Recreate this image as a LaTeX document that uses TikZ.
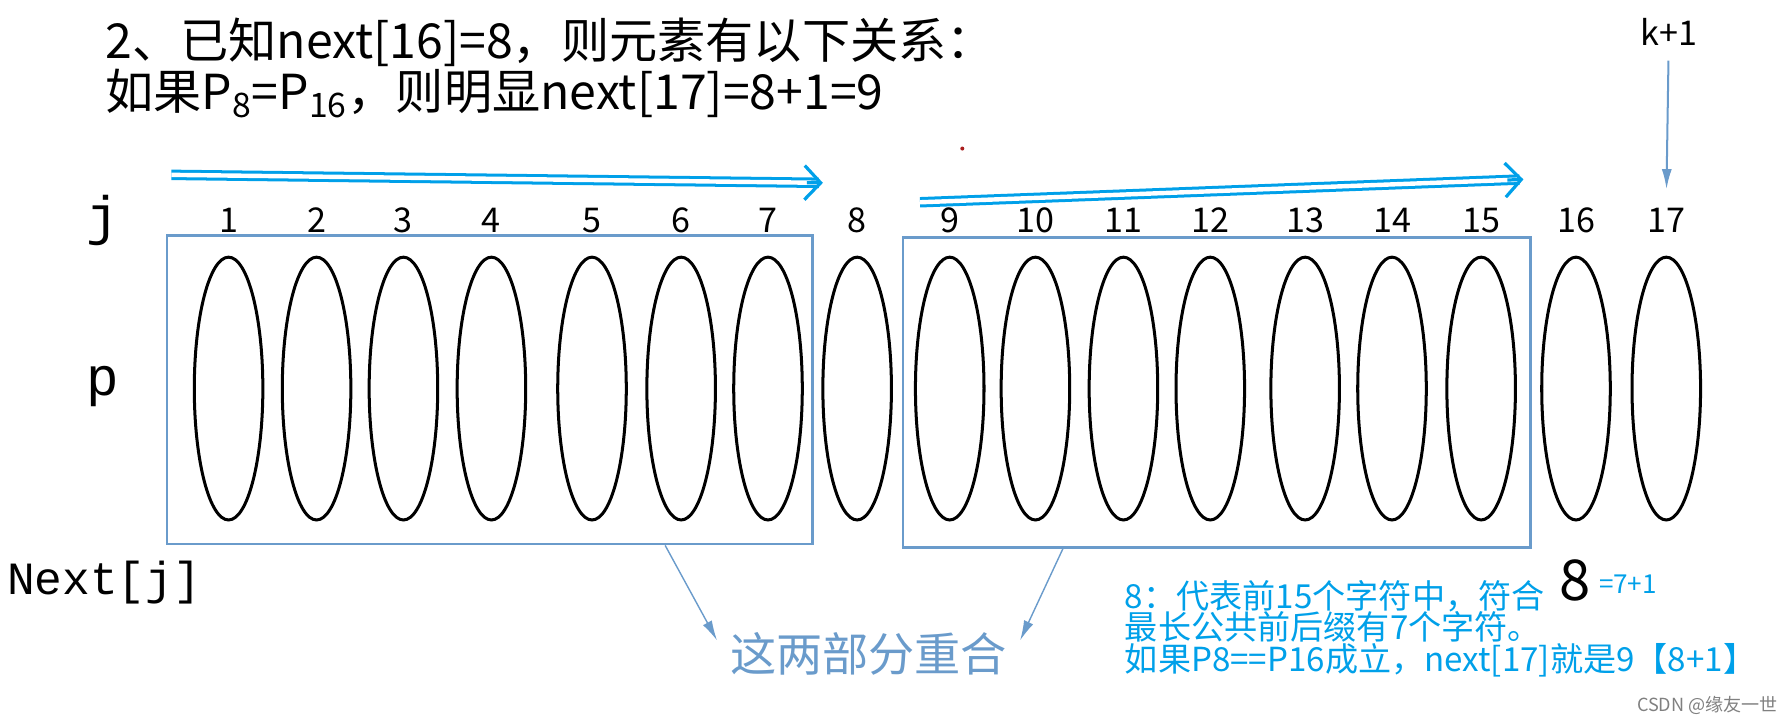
\documentclass[tikz,border=0pt]{standalone}
\usepackage{fontspec}
\setmainfont{Noto Sans CJK SC}
\newfontfamily\monofont{Liberation Mono}
\definecolor{boxblue}{RGB}{106, 155, 203}
\definecolor{skyblue}{RGB}{0, 160, 233}
\definecolor{dotred}{RGB}{170, 30, 30}
\usetikzlibrary{shapes.geometric, arrows.meta, positioning, calc}

\tikzset{
  oval/.style={draw, ellipse, line width=1.5pt, minimum width=1.2cm, minimum height=4.6cm, inner sep=0pt},
  idx/.style={font=\fontsize{17}{17}\selectfont},
  part/.style={draw=boxblue, line width=1.4pt, inner sep=0pt},
  thinarrow/.style={boxblue, line width=0.7pt, -{Latex[length=10pt, width=5pt]}},
  walk/.style={skyblue, double=white, double distance=2.2pt, line width=1.5pt, shorten >=2pt},
  walktip/.style={skyblue, line width=1.6pt, -{Straight Barb[length=8pt, width=17pt]}},
}

\begin{document}
\begin{tikzpicture}[x=0.02cm, y=-0.02cm]
  \useasboundingbox (0,0) rectangle (1568,634);

  % heading
  \node[anchor=west, font=\fontsize{24}{24}\selectfont] (head1) at (86,37) {2、已知next[16]=8，则元素有以下关系：};
  \node[anchor=west, font=\fontsize{24}{24}\selectfont] (head2) at (86,82) {如果P\textsubscript{8}=P\textsubscript{16}，则明显next[17]=8+1=9};
  \fill[dotred] (842,130) circle (1pt);

  % row labels
  \node[font=\monofont\fontsize{27}{27}\selectfont] (rowj) at (90,193) {j};
  \node[font=\monofont\fontsize{27}{27}\selectfont] (rowp) at (90,338) {p};
  \node[anchor=west, font=\monofont\fontsize{23}{23}\selectfont] (rownext) at (0,510) {Next[j]};

  % the string: index and element
  \foreach \x [count=\i] in {200, 277, 353, 430, 518, 596, 672, 750, 831, 906, 983, 1059, 1142, 1218, 1296, 1379, 1458} {
    \node[idx] (n\i) at (\x,193) {\i};
    \node[oval] (e\i) at (\x,340) {};
  }

  % prefix and suffix blocks
  \node[part, minimum width=11.3cm, minimum height=5.4cm] (prefix) at (428.5,341) {};
  \node[part, minimum width=10.98cm, minimum height=5.42cm] (suffix) at (1064.5,343.5) {};

  % matching walks
  \coordinate (walk1s) at (150,153);
  \coordinate (walk1e) at (720,160);
  \coordinate (walk2s) at (805,177);
  \coordinate (walk2e) at (1333,157);
  \draw[walk] (walk1s) -- (walk1e);
  \draw[walktip] ($(walk1e)!8pt!(walk1s)$) -- (walk1e);
  \draw[walk] (walk2s) -- (walk2e);
  \draw[walktip] ($(walk2e)!8pt!(walk2s)$) -- (walk2e);

  % k+1
  \node[font=\fontsize{17}{17}\selectfont] (kplus) at (1460,28) {k+1};
  \draw[thinarrow, line width=1pt, shorten <=4pt, shorten >=6pt] (kplus.south) -- (n17.north);

  % overlap note
  \node[text=boxblue, font=\fontsize{23}{23}\selectfont, inner sep=0.22cm] (overlap) at (760,572) {这两部分重合};
  \coordinate (pfoot) at (582,0);
  \coordinate (sfoot) at (930,0);
  \draw[thinarrow] (prefix.south -| pfoot) -- (overlap.175);
  \draw[thinarrow] (suffix.south -| sfoot) -- (overlap.5);

  % next value
  \node[font=\fontsize{28}{28}\selectfont] (nextval) at (1378,508) {8};
  \node[anchor=west, text=skyblue, font=\fontsize{13}{13}\selectfont, inner sep=1pt] (nextsum) at (1397,511) {=7+1};
  \node[anchor=west, align=left, text=skyblue, font=\fontsize{16.5}{15.8}\selectfont, inner sep=0pt] (explain) at (984,550)
    {8：代表前15个字符中，符合\\最长公共前后缀有7个字符。\\如果P8==P16成立，next[17]就是9【8+1】};

  \node[anchor=east, text=gray, font=\fontsize{9}{9}\selectfont, inner sep=0pt] (mark) at (1556,617) {CSDN @缘友一世};
\end{tikzpicture}
\end{document}
